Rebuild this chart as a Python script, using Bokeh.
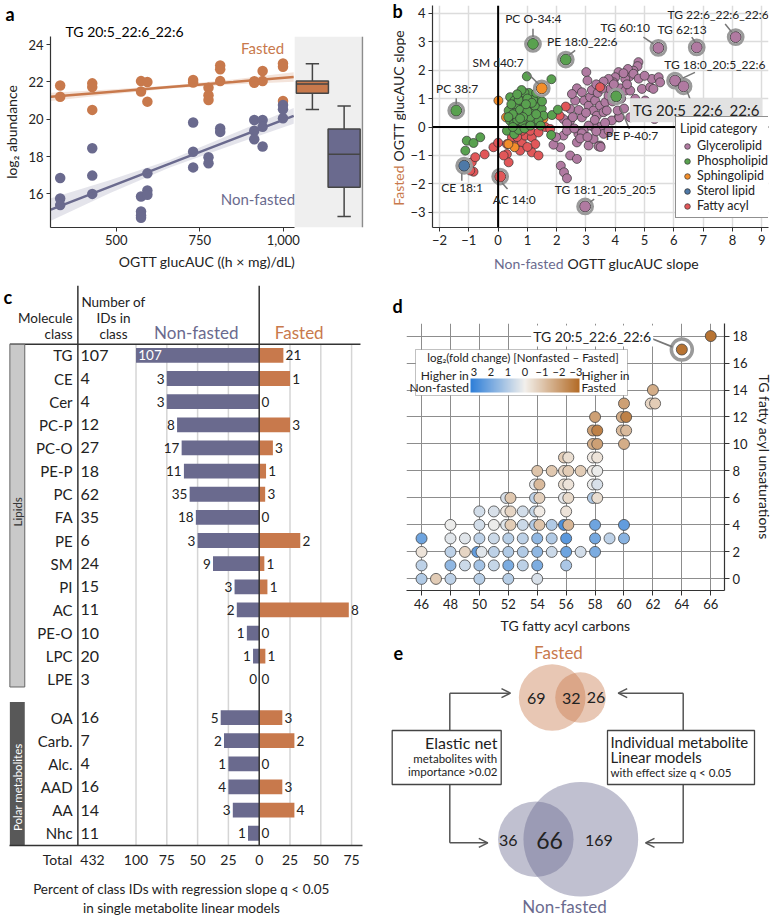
import math
from collections import defaultdict
from bokeh.plotting import figure
from bokeh.models import (Range1d, FixedTicker, NumeralTickFormatter, BoxAnnotation, Span, Label, Title,
                          Legend, LegendItem, ColorBar, LinearColorMapper, Arrow, OpenHead,
                          ColumnDataSource)
from bokeh.layouts import row, column
from bokeh.core.properties import value
from bokeh.transform import transform
from bokeh.embed import file_html
from bokeh.resources import INLINE

FONT = "Lato"
ORANGE = "#C8794C"
SLATE = "#6A6A8E"
TXT = "#222222"

# ---------------- Panel a data ----------------
a_title = "TG 20:5_22:6_22:6"
a_fasted_x = [332, 332, 428, 428, 428, 574, 574, 593, 593, 730, 730, 776, 776, 776, 811, 811, 811,
              913, 913, 938, 938, 999, 999, 999]
a_fasted_y = [21.81, 21.2, 21.92, 21.72, 20.5, 22.04, 21.48, 21.99, 20.94, 22.1, 21.96, 21.69, 21.28,
              21.03, 22.88, 22.67, 22.04, 22.04, 21.95, 22.58, 22.04, 22.99, 22.81, 20.98]
a_nonf_x = [332, 332, 332, 428, 428, 428, 574, 574, 574, 574, 593, 593, 593, 730, 730, 730, 776, 776,
            811, 811, 913, 913, 913, 938, 938, 938, 999, 999, 999]
a_nonf_y = [16.85, 15.75, 15.4, 18.44, 16.98, 16.0, 15.86, 15.06, 14.84, 14.72, 17.1, 16.18, 15.95,
            19.82, 18.26, 17.42, 17.96, 17.64, 19.5, 19.32, 19.96, 19.38, 18.93, 19.96, 19.59, 18.54,
            20.76, 20.53, 20.05]
band_x = [304, 480, 660, 850, 1031]
f_fit = [21.2, 21.457, 21.72, 21.995, 22.26]
f_lo = [20.98, 21.33, 21.64, 21.865, 22.01]
f_hi = [21.42, 21.59, 21.80, 22.125, 22.51]
nf_fit = [15.16, 16.38, 17.62, 18.93, 20.18]
nf_lo = [14.56, 16.03, 17.42, 18.63, 19.76]
nf_hi = [15.76, 16.73, 17.82, 19.23, 20.60]
box_groups = ["Fasted", "Non-fasted"]
box_lo = [20.52, 14.79]
box_q1 = [21.39, 16.36]
box_med = [21.88, 18.12]
box_q3 = [22.04, 19.47]
box_hi = [22.97, 20.71]

# ---------------- Panel b data ----------------
gl_x = [4.79, 4.76, 4.62, 4.49, 4.34, 4.11, 4.0, 3.94, 3.77, 3.6, 3.01, 3.05, 2.69, 2.86, 2.63, 2.46,
        2.52, 2.94, 3.09, 3.14, 3.31, 3.26, 3.37, 3.48, 3.6, 3.66, 3.77, 3.83, 4.05, 4.17, 4.34, 4.51,
        4.91, 5.19, 5.25, 5.48, 5.53, 4.68, 4.76, 4.51, 4.11, 3.88, 3.48, 3.26, 3.09, 2.86, 2.46, 2.23,
        2.35, 2.74, 2.69, 3.09, 3.48, 3.6, 3.26, 3.77, 2.92, 2.46, 2.12, 2.14, 2.25, 2.35, 2.69, 3.43,
        3.5, 2.86, 1.89, 1.98, 4.43, 4.28, 4.62, 5.02, 4.73, 4.68, 5.3, 5.34, 4.14, 4.08, 3.71, 2.23,
        2.35, 3.2, 3.4, 3.55, 3.9, 4.2, 3.3, 2.75, 2.55, 3.95, 4.4, 3.0, 4.8, 5.0, 3.35, 2.8, 3.05, 3.35,
        3.65, 4.3, 2.6]
gl_y = [2.28, 2.14, 1.98, 1.78, 1.69, 1.93, 1.75, 1.57, 1.69, 1.6, 1.93, 1.63, 1.36, 1.22, 0.93, 0.64,
        1.16, 0.93, 0.75, 1.05, 0.93, 0.58, 0.4, 0.75, 0.52, 0.87, 1.1, 1.34, 1.22, 1.36, 1.28, 1.28,
        1.34, 1.4, 1.69, 1.75, 1.57, 0.99, 0.64, 0.34, 0.34, 0.23, 0.0, 0.0, 0.05, 0.34, 0.23, -0.3,
        -0.13, -0.24, -0.54, -0.65, -0.65, -0.24, -0.42, -0.13, -0.13, -1.0, -0.71, -1.36, -1.59, -1.8,
        -1.12, -0.68, -0.7, -0.22, -0.62, -0.36, 2.04, 1.89, 1.87, 0.93, 0.81, 0.58, 1.34, 0.28, 0.34,
        0.58, 0.58, 0.28, 0.13, 1.3, 1.2, 1.35, 0.9, 1.0, 0.25, 0.6, 0.35, 1.5, 1.5, 0.5, 1.7, 1.8, 1.5,
        -0.4, -0.35, -0.15, 0.15, 0.65, -0.05]
pl_x = [0.98, 1.82, 0.41, 0.56, 0.73, 0.90, 1.15, 1.32, 1.04, 0.81, 0.58, 0.36, 0.41, 0.30, 0.70, 0.90,
        1.21, 1.49, 1.55, 1.04, 0.81, 0.53, 1.15, 1.38, 1.84, -1.07, -0.84, -0.61, -1.12, 0.6, 0.75,
        0.95, 1.1, 1.25, 1.0, 0.85, 0.65, 0.5, 1.4, 1.05, 0.9, 0.7, 1.2, 1.5, 0.45, 0.55, 0.7, 0.9, 1.1,
        1.3, 2.04, 1.81, 0.8, 1.0, 0.65, 1.3, 0.5, 1.45, 0.35, 1.15, 0.95, 0.75]
pl_y = [1.78, 1.68, 1.05, 0.93, 1.10, 0.99, 1.10, 0.87, 0.75, 0.75, 0.64, 0.58, 0.22, -0.13, 0.46, 0.52,
        0.58, 0.64, 0.40, 0.28, 0.17, 0.11, 0.11, 0.22, 0.42, -0.48, -0.56, -0.36, -0.83, 0.8, 0.6,
        0.45, 0.35, 0.75, 0.55, 0.35, 0.25, 0.45, 1.0, 1.2, 1.2, 0.95, 0.95, 0.9, 0.8, -0.25, -0.1,
        -0.05, 0.05, 0.45, 0.61, -0.28, 1.3, 1.0, 1.15, 1.2, 0.0, 0.05, 0.35, 0.85, 0.8, 0.3]
sp_x = [0.01, 0.27, 0.73, 0.56, 1.44, 0.45, 0.85, 0.35, 1.55]
sp_y = [0.93, 0.34, -0.07, -0.71, 0.37, 0.30, 0.05, -0.6, 0.3]
fa_x = [-0.16, -0.46, -0.9, -0.84, 0.47, 0.30, 0.58, 0.81, 0.92, 1.15, 1.27, 0.75, 0.30, 0.36, 0.19,
        1.15, 1.38, 1.1, 1.38, 1.61, 1.78, 0.81, 0.58, 2.31, 2.1, 3.48, -0.78, -0.95, 0.0, 1.0, 0.65]
fa_y = [-0.71, -0.96, -1.24, -1.57, -0.36, -0.6, -0.65, -0.54, -0.30, -0.36, -0.6, -0.83, -0.95, -1.24,
        -1.0, -0.89, -1.0, -0.13, -0.19, 0.0, -0.07, -0.13, 0.0, 0.72, 0.4, 1.4, -1.06, -1.53, -0.55,
        -0.7, -0.35]
hl_names = ["PC O-34:4", "PE 18:0_22:6", "SM d40:7", "PC 38:7", "CE 18:1", "AC 14:0", "TG 60:10",
            "TG 62:13", "TG 22:6_22:6_22:6", "TG 18:0_20:5_22:6", "TG 20:5_22:6_22:6", "PE P-40:7",
            "TG 18:1_20:5_20:5"]
hl_cat = ["Phospholipid", "Phospholipid", "Sphingolipid", "Phospholipid", "Sterol lipid", "Fatty acyl",
          "Glycerolipid", "Glycerolipid", "Glycerolipid", "Glycerolipid", "Glycerolipid", "Phospholipid",
          "Glycerolipid"]
hl_x = [1.19, 2.31, 1.49, -1.43, -1.16, 0.07, 5.47, 6.78, 8.11, 6.04, 6.33, 4.03, 2.97]
hl_y = [2.92, 2.37, 1.36, 0.58, -1.36, -1.74, 2.78, 2.80, 3.16, 1.63, 1.43, 1.08, -2.79]
categories = ["Glycerolipid", "Phospholipid", "Sphingolipid", "Sterol lipid", "Fatty acyl"]
cat_colors = ["#B07AA1", "#59A14F", "#F28E2B", "#4E79A7", "#E15759"]

# ---------------- Panel c data ----------------
classes = ["TG", "CE", "Cer", "PC-P", "PC-O", "PE-P", "PC", "FA", "PE", "SM", "PI", "AC", "PE-O", "LPC",
           "LPE", "OA", "Carb.", "Alc.", "AAD", "AA", "Nhc"]
class_group = ["Lipids"] * 15 + ["Polar metabolites"] * 6
n_ids = [107, 4, 4, 12, 27, 18, 62, 35, 6, 24, 15, 11, 10, 20, 3, 16, 7, 4, 16, 14, 11]
sig_nonfasted = [107, 3, 3, 8, 17, 11, 35, 18, 3, 9, 3, 2, 1, 1, 0, 5, 2, 1, 4, 3, 1]
sig_fasted = [21, 1, 0, 3, 3, 1, 3, 0, 2, 1, 1, 8, 0, 1, 0, 3, 2, 0, 3, 4, 0]
total_ids = 432
pct_ticks = [-100, -75, -50, -25, 0, 25, 50, 75]

# ---------------- Panel d data ----------------
tg_points = [
    (46, 0, 1.0), (47, 0, -0.8), (48, 0, 0.8), (50, 0, 0.9), (52, 0, 0.9), (54, 0, 0.4),
    (46, 1, 0.8), (48, 1, 1.5), (49, 1, 0.6), (50, 1, 1.2), (51, 1, 0.7), (52, 1, 1.8), (53, 1, 0.8),
    (54, 1, 1.8), (56, 1, 1.1),
    (46, 2, -0.3), (48, 2, 0.8), (49, 2, -0.6), (50, 2, 2.2), (50, 2, 0.3), (51, 2, 0.8), (52, 2, 1.0),
    (53, 2, 1.0), (54, 2, 1.5), (55, 2, 0.6), (56, 2, 2.0), (57, 2, 0.5), (58, 2, 1.8),
    (46, 3, 2.0), (48, 3, 0.3), (49, 3, 0.3), (50, 3, 0.8), (51, 3, 0.6), (52, 3, 0.9), (53, 3, 0.8),
    (54, 3, 1.5), (55, 3, 1.0), (56, 3, 2.3), (58, 3, 1.9), (59, 3, 0.8), (60, 3, 1.6),
    (48, 4, 0.1), (50, 4, 0.5), (51, 4, 0.1), (52, 4, 0.3), (52, 4, -0.8), (53, 4, 0.6), (54, 4, 1.0),
    (54, 4, -1.0), (55, 4, 1.0), (56, 4, 2.5), (56, 4, -1.3), (58, 4, 2.0), (60, 4, 2.2),
    (50, 5, 0.5), (51, 5, 0.4), (52, 5, -0.1), (52, 5, -0.6), (53, 5, 0.5), (54, 5, 0.7), (54, 5, -0.1),
    (56, 5, -0.3),
    (52, 6, 0.4), (52, 6, -0.9), (54, 6, 0.8), (54, 6, -0.7), (56, 6, 0.2), (56, 6, -0.5), (58, 6, 1.0),
    (58, 6, -0.4),
    (54, 7, 0.2), (54, 7, -1.2), (56, 7, -0.4), (56, 7, -0.3), (58, 7, 0.1), (58, 7, 0.4),
    (54, 8, -1.0), (55, 8, -0.9), (56, 8, -0.6), (56, 8, -0.8), (57, 8, -0.8), (58, 8, -0.1), (58, 8, 0.1),
    (56, 9, -0.8), (56, 9, -0.4), (58, 9, -0.1), (58, 9, -0.3),
    (58, 10, -1.5), (58, 10, -1.8), (60, 10, -1.5),
    (58, 11, -1.8), (58, 11, -2.5), (60, 11, -1.2), (60, 11, -1.2),
    (58, 12, -1.8), (60, 12, -1.5), (60, 12, -2.5),
    (60, 13, -1.8), (62, 13, -0.6), (62, 13, -0.8),
    (62, 14, -1.5),
    (64, 17, -2.8),
    (66, 18, -2.8),
]
tg_carbons = [t[0] for t in tg_points]
tg_unsat = [t[1] for t in tg_points]
tg_log2fc = [t[2] for t in tg_points]
d_highlight = ("TG 20:5_22:6_22:6", 64, 17)

# ---------------- Panel e data ----------------
venn_fasted = [69, 32, 26]
venn_nonfasted = [36, 66, 169]


def base_fig(**kw):
    p = figure(output_backend="svg", toolbar_location=None, title=None, frame_align=False, **kw)
    p.outline_line_color = None
    p.background_fill_color = "white"
    p.border_fill_color = "white"
    return p


def text_fig(width, height):
    p = base_fig(width=width, height=height, x_range=Range1d(0, width), y_range=Range1d(height, 0),
                 x_axis_type=None, y_axis_type=None, min_border=0)
    p.grid.visible = False
    return p


def style_axis(ax, size="13px"):
    ax.major_label_text_font = FONT
    ax.major_label_text_font_size = size
    ax.major_label_text_color = TXT
    ax.axis_label_text_font = FONT
    ax.axis_label_text_font_style = "normal"
    ax.axis_label_text_color = TXT
    ax.axis_label_text_font_size = "14px"
    ax.axis_line_color = "#333333"
    ax.axis_line_width = 1.2
    ax.major_tick_line_color = "#333333"
    ax.minor_tick_line_color = None
    ax.major_tick_in = 0
    ax.major_tick_out = 4
    ax.major_label_standoff = 3
    ax.axis_label_standoff = 5


def letter_title(p, letter, offset, standoff):
    p.add_layout(Title(text=letter, align="left", offset=offset, standoff=standoff, text_font=FONT,
                       text_font_size="18px", text_font_style="bold", text_color="black"), "above")


# =============== Panel a ===============
pa = base_fig(width=390, height=285, x_range=Range1d(303, 1240), y_range=Range1d(14.2, 24.43),
              min_border_left=48, min_border_right=27, min_border_top=32, min_border_bottom=58)
pa.grid.visible = False
pa.add_layout(BoxAnnotation(left=1034, fill_color="#efefef", fill_alpha=1, line_color=None,
                            level="underlay"))
pa.add_layout(Span(location=1237, dimension="height", line_color="#8c8c8c", line_width=1.5))
pa.varea(x=band_x, y1=f_lo, y2=f_hi, fill_color=ORANGE, fill_alpha=0.2)
pa.varea(x=band_x, y1=nf_lo, y2=nf_hi, fill_color=SLATE, fill_alpha=0.18)
pa.scatter(a_fasted_x, a_fasted_y, size=10.5, fill_color=ORANGE, line_color=None)
pa.scatter(a_nonf_x, a_nonf_y, size=10.5, fill_color=SLATE, line_color=None)
pa.line(band_x, f_fit, line_color=ORANGE, line_width=2.5)
pa.line(band_x, nf_fit, line_color=SLATE, line_width=2.5)
box_pos = [1087, 1182]
half_box = 48
half_cap = 20
BOXLINE = "#454545"
pa.segment(x0=box_pos, y0=box_lo, x1=box_pos, y1=box_q1, line_color=BOXLINE, line_width=1.5)
pa.segment(x0=box_pos, y0=box_q3, x1=box_pos, y1=box_hi, line_color=BOXLINE, line_width=1.5)
pa.segment(x0=[b - half_cap for b in box_pos], y0=box_lo, x1=[b + half_cap for b in box_pos], y1=box_lo,
           line_color=BOXLINE, line_width=1.5)
pa.segment(x0=[b - half_cap for b in box_pos], y0=box_hi, x1=[b + half_cap for b in box_pos], y1=box_hi,
           line_color=BOXLINE, line_width=1.5)
pa.vbar(x=box_pos, width=2 * half_box, bottom=box_q1, top=box_q3, fill_color=[ORANGE, SLATE],
        line_color=BOXLINE, line_width=1.5)
pa.segment(x0=[b - half_box for b in box_pos], y0=box_med, x1=[b + half_box for b in box_pos],
           y1=box_med, line_color=BOXLINE, line_width=1.5)
style_axis(pa.xaxis[0])
style_axis(pa.yaxis[0])
pa.xaxis.ticker = FixedTicker(ticks=[500, 750, 1000])
pa.xaxis.formatter = NumeralTickFormatter(format="0,0")
pa.xaxis.bounds = (303, 1034)
pa.xaxis.axis_label = "OGTT glucAUC ((h × mg)/dL)"
pa.yaxis.ticker = FixedTicker(ticks=[16, 18, 20, 22, 24])
pa.yaxis.axis_label = "log₂ abundance"
pa.add_layout(Label(x=938, y=23.8, text="Fasted", text_font=FONT, text_font_size="15px",
                    text_color=ORANGE, text_align="center", text_baseline="middle"))
pa.add_layout(Label(x=924, y=15.75, text="Non-fasted", text_font=FONT, text_font_size="15px",
                    text_color=SLATE, text_align="center", text_baseline="middle"))
pa.add_layout(Title(text=a_title, align="left", offset=15, standoff=-7, text_font=FONT,
                    text_font_size="14px", text_font_style="normal", text_color="black"), "above")
letter_title(pa, "a", -45, 0)

# =============== Panel b ===============
pb = base_fig(width=369, height=255, x_range=Range1d(-2.24, 9.23), y_range=Range1d(-3.53, 4.27),
              min_border_left=26, min_border_right=7, min_border_top=5, min_border_bottom=28)
style_axis(pb.xaxis[0])
style_axis(pb.yaxis[0])
pb.xaxis.ticker = FixedTicker(ticks=list(range(-2, 10)))
pb.yaxis.ticker = FixedTicker(ticks=list(range(-3, 5)))
pb.grid.grid_line_color = "#dcdcdc"
pb.grid.grid_line_width = 1.5
pb.add_layout(Span(location=0, dimension="height", line_color="black", line_width=2))
pb.add_layout(Span(location=0, dimension="width", line_color="black", line_width=2))
col = dict(zip(categories, cat_colors))
PT = dict(size=9, line_color="#333333", line_width=0.7)
r_gl = pb.scatter(gl_x, gl_y, fill_color=col["Glycerolipid"], **PT)
r_fa = pb.scatter(fa_x, fa_y, fill_color=col["Fatty acyl"], **PT)
r_sp = pb.scatter(sp_x, sp_y, fill_color=col["Sphingolipid"], **PT)
r_pl = pb.scatter(pl_x, pl_y, fill_color=col["Phospholipid"], **PT)
pb.scatter(hl_x, hl_y, size=15, fill_color="white", line_color="#9a9a9a", line_width=2.8)
hl_r = {}
for cat in categories:
    xs = [x for x, c in zip(hl_x, hl_cat) if c == cat]
    ys = [y for y, c in zip(hl_y, hl_cat) if c == cat]
    hl_r[cat] = pb.scatter(xs, ys, size=11, fill_color=col[cat], line_color="#333333", line_width=0.8)
# label layout: (label x, label y, leader x0, y0, x1, y1)
hl_layout = {
    "PC O-34:4": (1.2, 3.81, 1.19, 3.45, 1.19, 3.16),
    "PE 18:0_22:6": (2.87, 3.0, 2.63, 2.69, 2.4, 2.51),
    "SM d40:7": (0.0, 2.26, 0.98, 1.92, 1.38, 1.51),
    "PC 38:7": (-1.4, 1.35, -1.43, 1.01, -1.43, 0.79),
    "CE 18:1": (-1.23, -2.14, -1.24, -1.89, -1.24, -1.62),
    "AC 14:0": (0.55, -2.56, 0.32, -2.18, 0.13, -1.96),
    "TG 60:10": (4.34, 3.5, 4.96, 3.16, 5.3, 2.92),
    "TG 62:13": (6.28, 3.43, 6.61, 3.16, 6.73, 2.98),
    "TG 22:6_22:6_22:6": (7.51, 3.95, 7.75, 3.62, 7.98, 3.33),
    "TG 18:0_20:5_22:6": (7.4, 2.19, 6.72, 1.92, 6.3, 1.72),
    "TG 20:5_22:6_22:6": (6.76, 0.59, 6.44, 1.28, 6.6, 0.85),
    "PE P-40:7": (4.57, -0.3, 4.17, 0.69, 4.48, -0.07),
    "TG 18:1_20:5_20:5": (3.66, -2.2, 3.28, -2.53, 3.14, -2.64),
}
lead = [hl_layout[n] for n in hl_names]
pb.segment(x0=[l[2] for l in lead], y0=[l[3] for l in lead], x1=[l[4] for l in lead],
           y1=[l[5] for l in lead], line_color="#777777", line_width=1.5)
for n in hl_names:
    lx, ly = hl_layout[n][0], hl_layout[n][1]
    if n == "TG 20:5_22:6_22:6":
        pb.add_layout(Label(x=lx, y=ly, text=n, text_font=FONT, text_font_size="15px", text_color=TXT,
                            text_align="center", text_baseline="middle",
                            background_fill_color="#e2e2e2", background_fill_alpha=1, padding=3))
    else:
        pb.add_layout(Label(x=lx, y=ly, text=n, text_font=FONT, text_font_size="12px", text_color=TXT,
                            text_align="center", text_baseline="middle"))
legend = Legend(items=[LegendItem(label="Glycerolipid", renderers=[r_gl]),
                       LegendItem(label="Phospholipid", renderers=[r_pl]),
                       LegendItem(label="Sphingolipid", renderers=[r_sp]),
                       LegendItem(label="Sterol lipid", renderers=[hl_r["Sterol lipid"]]),
                       LegendItem(label="Fatty acyl", renderers=[r_fa])],
                title="Lipid category", location=(243, 9))
legend.title_text_font = FONT
legend.title_text_font_size = "12.5px"
legend.title_text_font_style = "normal"
legend.title_text_color = TXT
legend.title_standoff = 2
legend.label_text_font = FONT
legend.label_text_font_size = "12.5px"
legend.label_text_color = TXT
legend.glyph_height = 14
legend.glyph_width = 14
legend.label_height = 14
legend.spacing = 0
legend.padding = 4
legend.margin = 0
legend.label_standoff = 3
legend.border_line_color = "#222222"
legend.border_line_width = 1.2
legend.background_fill_alpha = 1
pb.add_layout(legend)

# axis titles of panel b (two colours) and the panel letter, in narrow text strips
pb_left = text_fig(16, 285)
pb_left.text(x=[2], y=[10], text=["b"], text_font=value(FONT), text_font_size="18px",
             text_font_style="bold", text_color="black", text_align="left", text_baseline="middle")
pb_left.text(x=[7.5], y=[165], text=["Fasted"], angle=math.pi / 2, text_font=value(FONT),
             text_font_size="14px", text_color=ORANGE, text_align="right", text_baseline="middle")
pb_left.text(x=[7.5], y=[161], text=["OGTT glucAUC slope"], angle=math.pi / 2, text_font=value(FONT),
             text_font_size="14px", text_color=TXT, text_align="left", text_baseline="middle")
pb_bottom = text_fig(369, 30)
pb_bottom.text(x=[157], y=[8], text=["Non-fasted"], text_font=value(FONT), text_font_size="14px",
               text_color=SLATE, text_align="right", text_baseline="middle")
pb_bottom.text(x=[161], y=[8], text=["OGTT glucAUC slope"], text_font=value(FONT), text_font_size="14px",
               text_color=TXT, text_align="left", text_baseline="middle")

# =============== Panel c ===============
pc = base_fig(width=390, height=633, x_range=Range1d(-210.0, 83.85), y_range=Range1d(21.18, -3.02),
              y_axis_location=None, min_border_left=0, min_border_right=28, min_border_top=0,
              min_border_bottom=67)
pc.grid.visible = False
gap = 0.65
ypos = [i if g == "Lipids" else i + gap for i, g in enumerate(class_group)]
nf_pct = [100.0 * a / b for a, b in zip(sig_nonfasted, n_ids)]
f_pct = [100.0 * a / b for a, b in zip(sig_fasted, n_ids)]
X_NAME, X_TOT, X_DIV, X_NUM, X_LEFT = -151.5, -145.0, -147.2, -118.3, -202.4
Y_TOP, Y_HDR, Y_BOT = -3.02, -0.48, 21.18
lip_idx = [i for i, g in enumerate(class_group) if g == "Lipids"]
pol_idx = [i for i, g in enumerate(class_group) if g != "Lipids"]
grid_x = [t for t in pct_ticks if t != 0]
pc.segment(x0=grid_x, y0=Y_HDR, x1=grid_x, y1=Y_BOT, line_color="#d5d5d5", line_width=1.5)
pc.hbar(y=ypos, left=[-v for v in nf_pct], right=0, height=0.64, fill_color=SLATE, line_color=None)
pc.hbar(y=ypos, left=0, right=f_pct, height=0.64, fill_color=ORANGE, line_color=None)
pc.segment(x0=[0, X_DIV, X_LEFT], y0=[Y_TOP, Y_TOP, Y_HDR], x1=[0, X_DIV, 82.2], y1=[Y_BOT, Y_BOT, Y_HDR],
           line_color="#333333", line_width=1.5)
pc.quad(left=X_LEFT, right=-190.3, top=Y_HDR, bottom=ypos[lip_idx[-1]] + 0.33, fill_color="#c9c9c9",
        line_color="#666666", line_width=1)
pc.quad(left=X_LEFT, right=-190.3, top=ypos[pol_idx[0]] - 0.67, bottom=Y_BOT, fill_color="#585858",
        line_color=None)
pc.text(x=[-196.4], y=[(Y_HDR + ypos[lip_idx[-1]]) / 2], text=["Lipids"], angle=math.pi / 2,
        text_font=value(FONT), text_font_size="11.5px", text_color="#333333", text_align="center",
        text_baseline="middle")
pc.text(x=[-196.4], y=[(ypos[pol_idx[0]] + Y_BOT) / 2 + 0.25], text=["Polar metabolites"],
        angle=math.pi / 2, text_font=value(FONT), text_font_size="11.5px", text_color="white",
        text_align="center", text_baseline="middle")
pc.text(x=X_NAME, y=ypos, text=classes, text_font=value(FONT), text_font_size="15px", text_color=TXT,
        text_align="right", text_baseline="middle")
pc.text(x=X_TOT, y=ypos, text=[str(n) for n in n_ids], text_font=value(FONT), text_font_size="16px",
        text_color=TXT, text_align="left", text_baseline="middle")
LPAD = 1.8
nf_in = [i for i, v in enumerate(nf_pct) if v >= 99]
nf_out = [i for i, v in enumerate(nf_pct) if v < 99]
pc.text(x=[-nf_pct[i] - LPAD for i in nf_out], y=[ypos[i] for i in nf_out],
        text=[str(sig_nonfasted[i]) for i in nf_out], text_font=value(FONT), text_font_size="13.5px",
        text_color=TXT, text_align="right", text_baseline="middle")
pc.text(x=[-nf_pct[i] + LPAD for i in nf_in], y=[ypos[i] for i in nf_in],
        text=[str(sig_nonfasted[i]) for i in nf_in], text_font=value(FONT), text_font_size="13.5px",
        text_color="white", text_align="left", text_baseline="middle")
pc.text(x=[v + LPAD for v in f_pct], y=ypos, text=[str(v) for v in sig_fasted], text_font=value(FONT),
        text_font_size="13.5px", text_color=TXT, text_align="left", text_baseline="middle")
pc.text(x=[X_NAME, X_NAME], y=[-1.61, -0.93], text=["Molecule", "class"], text_font=value(FONT),
        text_font_size="13.5px", text_color=TXT, text_align="right", text_baseline="middle")
pc.text(x=[X_NUM] * 3, y=[-2.29, -1.61, -0.93], text=["Number of", "IDs in", "class"],
        text_font=value(FONT), text_font_size="13.5px", text_color=TXT, text_align="center",
        text_baseline="middle")
pc.text(x=[-51.1], y=[-0.98], text=["Non-fasted"], text_font=value(FONT), text_font_size="17px",
        text_color=SLATE, text_align="center", text_baseline="middle")
pc.text(x=[32.5], y=[-0.98], text=["Fasted"], text_font=value(FONT), text_font_size="17px",
        text_color=ORANGE, text_align="center", text_baseline="middle")
pc.text(x=[-207.5], y=[-2.52], text=["c"], text_font=value(FONT), text_font_size="18px",
        text_font_style="bold", text_color="black", text_align="left", text_baseline="middle")
style_axis(pc.xaxis[0], "14px")
tick_total, tick_ids = -163.7, -135.3
pc.xaxis.ticker = FixedTicker(ticks=[tick_total, tick_ids] + pct_ticks)
overrides = {tick_total: "Total", tick_ids: str(total_ids)}
for t in pct_ticks:
    overrides[t] = str(abs(t))
pc.xaxis.major_label_overrides = overrides
pc.xaxis.bounds = (X_LEFT, 83.85)
pc.xaxis.major_tick_out = 0
pc.xaxis.axis_line_width = 1.5
pc.xaxis.major_label_standoff = 5
pc.xaxis.axis_label_standoff = 10
pc.xaxis.axis_label_text_font_size = "13.5px"
pc.xaxis.axis_label = "Percent of class IDs with regression slope q < 0.05\nin single metabolite linear models"

# =============== Panel d ===============
def hex2rgb(h):
    return tuple(int(h[i:i + 2], 16) for i in (1, 3, 5))


def lerp(c1, c2, t):
    a, b = hex2rgb(c1), hex2rgb(c2)
    return "#%02x%02x%02x" % tuple(round(a[k] + (b[k] - a[k]) * t) for k in range(3))


C_BLUE, C_MID, C_BROWN = "#2D7ED8", "#F3F0EC", "#B36B26"
palette = [lerp(C_BLUE, C_MID, i / 127.5) if i < 128 else lerp(C_MID, C_BROWN, (i - 127.5) / 127.5)
           for i in range(256)]
cmap = LinearColorMapper(palette=palette, low=-3, high=3)

groups = defaultdict(list)
for i, key in enumerate(zip(tg_carbons, tg_unsat)):
    groups[key].append(i)
dodge = [0.0] * len(tg_carbons)
for key, idx in groups.items():
    for k, i in enumerate(idx):
        dodge[i] = (k - (len(idx) - 1) / 2) * 0.3
src_d = ColumnDataSource(dict(x=[c + d for c, d in zip(tg_carbons, dodge)], y=tg_unsat,
                              fc_neg=[-v for v in tg_log2fc]))

pdd = base_fig(width=385, height=355, x_range=Range1d(44.96, 66.95), y_range=Range1d(-0.86, 18.93),
               y_axis_location="right", min_border_left=16, min_border_right=44, min_border_top=37,
               min_border_bottom=50)
style_axis(pdd.xaxis[0])
style_axis(pdd.yaxis[0])
pdd.xaxis.ticker = FixedTicker(ticks=list(range(46, 67, 2)))
pdd.yaxis.ticker = FixedTicker(ticks=list(range(0, 19, 2)))
pdd.xaxis.major_tick_out = 5
pdd.yaxis.major_tick_out = 5
pdd.xaxis.axis_label = "TG fatty acyl carbons"
pdd.yaxis.axis_label = "TG fatty acyl unsaturations"
pdd.grid.grid_line_color = "#8d8d8d"
pdd.grid.grid_line_width = 1
pdd.scatter([d_highlight[1]], [d_highlight[2]], size=21, fill_color="white", line_color="#9a9a9a",
            line_width=3.5)
pdd.scatter("x", "y", source=src_d, size=11, fill_color=transform("fc_neg", cmap),
            line_color="#444444", line_width=0.8)
pdd.segment(x0=[61.95], y0=[17.8], x1=[63.35], y1=[17.2], line_color="#777777", line_width=1.8)
pdd.add_layout(Label(x=57.8, y=18, text=d_highlight[0], text_font=FONT, text_font_size="14px",
                     text_color=TXT, text_align="center", text_baseline="middle",
                     background_fill_color="white", background_fill_alpha=1, padding=2))
pdd.add_layout(BoxAnnotation(left=9, right=221, bottom=195, top=241, left_units="screen",
                             right_units="screen", bottom_units="screen", top_units="screen",
                             fill_color="white", fill_alpha=1, line_color="#333333", line_width=1,
                             level="annotation"))
cb = ColorBar(color_mapper=cmap, orientation="horizontal", location=(64, 198), width=109, height=14,
              padding=0, margin=0, ticker=FixedTicker(ticks=[]), major_label_text_font_size="0px",
              major_tick_line_color=None, minor_tick_line_color=None, bar_line_color=None,
              border_line_color=None, background_fill_alpha=0, label_standoff=0)
pdd.add_layout(cb)
LBL = dict(x_units="screen", y_units="screen", text_font=FONT, text_color=TXT, text_baseline="middle")
pdd.add_layout(Label(x=117.9, y=233, text="log₂(fold change)  [Nonfasted – Fasted]",
                     text_font_size="11.5px", text_align="center", **LBL))
cb_ticks = [3, 2, 1, 0, -1, -2, -3]
for k, t in enumerate(cb_ticks):
    lab = str(t) if t >= 0 else "−" + str(-t)
    pdd.add_layout(Label(x=67.5 + k * 17, y=219, text=lab, text_font_size="11px", text_align="center", **LBL))
pdd.add_layout(Label(x=62.5, y=215.5, text="Higher in", text_font_size="12px", text_align="right", **LBL))
pdd.add_layout(Label(x=62.5, y=203, text="Non-fasted", text_font_size="12px", text_align="right", **LBL))
pdd.add_layout(Label(x=175, y=215.5, text="Higher in", text_font_size="12px", text_align="left", **LBL))
pdd.add_layout(Label(x=175, y=203, text="Fasted", text_font_size="12px", text_align="left", **LBL))
letter_title(pdd, "d", -14, 14)

# =============== Panel e ===============
pe = base_fig(width=385, height=278, x_range=Range1d(390, 775), y_range=Range1d(918, 640),
              x_axis_type=None, y_axis_type=None, min_border=0)
pe.grid.visible = False
kF, kN = 3.32, 3.74
rF = [kF * math.sqrt(venn_fasted[0] + venn_fasted[1]), kF * math.sqrt(venn_fasted[1] + venn_fasted[2])]
rN = [kN * math.sqrt(venn_nonfasted[0] + venn_nonfasted[1]),
      kN * math.sqrt(venn_nonfasted[1] + venn_nonfasted[2])]
pe.circle(x=[551.7, 580.0], y=[697, 697], radius=rF, fill_color=ORANGE, fill_alpha=0.42, line_color=None)
pe.circle(x=[535.3, 580.3], y=[838.7, 838.7], radius=rN, fill_color=SLATE, fill_alpha=0.42,
          line_color=None)
pe.text(x=[535.7, 570.7, 595.5], y=[698, 698, 697], text=[str(v) for v in venn_fasted],
        text_font=value(FONT), text_font_size="16px", text_color=TXT, text_align="center",
        text_baseline="middle")
pe.text(x=[507.7, 598.3], y=[840, 840], text=[str(venn_nonfasted[0]), str(venn_nonfasted[2])],
        text_font=value(FONT), text_font_size="16px", text_color=TXT, text_align="center",
        text_baseline="middle")
pe.text(x=[549], y=[839.5], text=[str(venn_nonfasted[1])], text_font=value(FONT), text_font_size="23px",
        text_color=TXT, text_align="center", text_baseline="middle")
pe.text(x=[558], y=[652], text=["Fasted"], text_font=value(FONT), text_font_size="17px",
        text_color=ORANGE, text_align="center", text_baseline="middle")
pe.text(x=[564], y=[906], text=["Non-fasted"], text_font=value(FONT), text_font_size="17px",
        text_color=SLATE, text_align="center", text_baseline="middle")
pe.text(x=[393], y=[652], text=["e"], text_font=value(FONT), text_font_size="18px",
        text_font_style="bold", text_color="black", text_align="left", text_baseline="middle")
ARW = "#555555"
pe.multi_line(xs=[[449.3, 449.3], [449.3, 449.3], [682.7, 682.7], [682.7, 682.7]],
              ys=[[730, 692.7], [784, 842.3], [730, 692.7], [784, 842.3]], line_color=ARW, line_width=1.5)
for xs, ys, xe in [(449.3, 692.7, 510), (449.3, 842.3, 487.3), (682.7, 692.7, 617.7), (682.7, 842.3, 645)]:
    pe.add_layout(Arrow(end=OpenHead(size=9, line_color=ARW, line_width=1.5), x_start=xs, y_start=ys,
                        x_end=xe, y_end=ys, line_color=ARW, line_width=1.5))
pe.quad(left=[391.7, 607], right=[500.7, 754], top=[730, 730], bottom=[784, 784], fill_color="white",
        line_color="#444444", line_width=1.3)
pe.text(x=[497, 497, 497], y=[742, 757.5, 771], text=["Elastic net", "metabolites with", "importance >0.02"],
        text_font=value(FONT), text_font_size=["16px", "11.5px", "11.5px"], text_color=TXT,
        text_align="right", text_baseline="middle")
pe.text(x=[610, 610, 610], y=[741, 756.5, 772], text=["Individual metabolite", "Linear models",
                                                     "with effect size  q < 0.05"],
        text_font=value(FONT), text_font_size=["15px", "15px", "11.5px"], text_color=TXT,
        text_align="left", text_baseline="middle")

layout = column(row(pa, pb_left, column(pb, pb_bottom)), row(pc, column(pdd, pe)))
open("out.html", "w").write(file_html(layout, INLINE))
